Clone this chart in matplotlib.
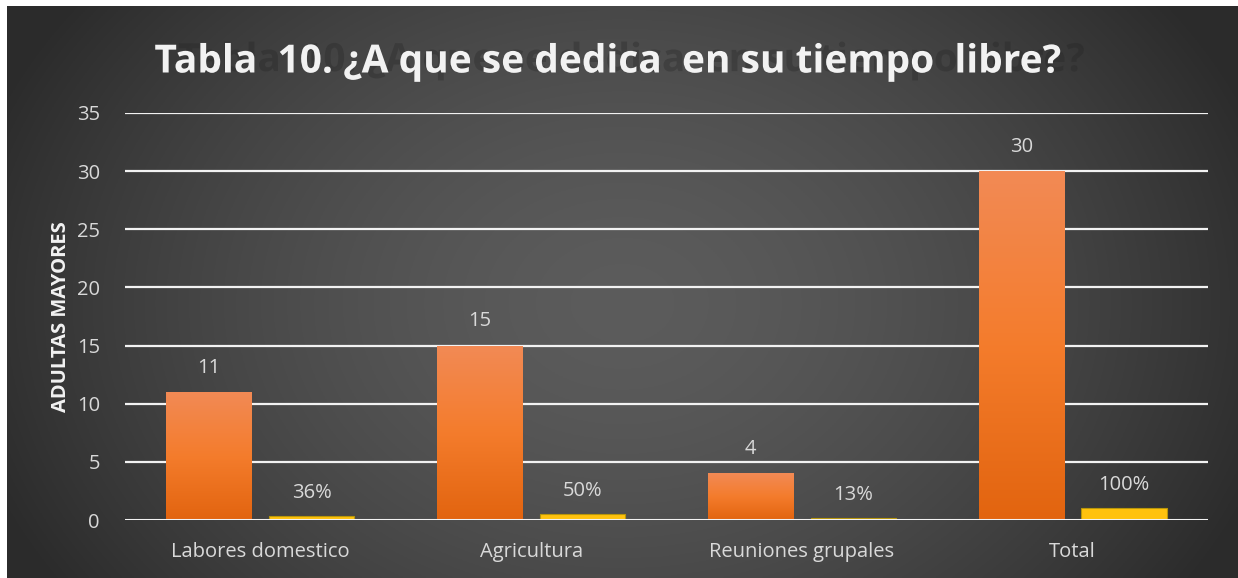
import numpy as np
import matplotlib.pyplot as plt
import matplotlib.patheffects as pe
from matplotlib.colors import LinearSegmentedColormap

categorias = ['Labores domestico', 'Agricultura', 'Reuniones grupales', 'Total']
cantidad = [11, 15, 4, 30]
porcentaje = [0.36, 0.50, 0.13, 1.00]
etiquetas_pct = ['36%', '50%', '13%', '100%']
yticks = [0, 5, 10, 15, 20, 25, 30, 35]

plt.rcParams['font.family'] = ['Open Sans', 'DejaVu Sans']

W, H = 1238, 578
fig = plt.figure(figsize=(W / 100, H / 100), dpi=100)
fig.patch.set_facecolor('white')

# fondo con degradado radial
bg = fig.add_axes([7 / W, 0, 1 - 7 / W, 1 - 6 / H])
bg.set_axis_off()
yy, xx = np.mgrid[0:1:300j, 0:1:600j]
r = np.sqrt(((xx - 0.5) / 0.55) ** 2 + ((yy - 0.48) / 0.9) ** 2)
r = np.clip(r, 0, 1)
val = 0.36 - 0.19 * r ** 1.6
bg.imshow(np.dstack([val, val, val]), aspect='auto', extent=[0, 1, 0, 1], origin='lower')
bg.set_xlim(0, 1)
bg.set_ylim(0, 1)

ax = fig.add_axes([125 / W, 1 - 520 / H, (1208 - 125) / W, (520 - 113) / H])
ax.patch.set_alpha(0)
ax.set_yticks(yticks)
for t in yticks[1:]:
    ax.axhline(t, color='#f2f2f2', lw=1.6, zorder=1)
ax.axhline(0, color='#f2f2f2', lw=2.2, zorder=4)
for s in ax.spines.values():
    s.set_visible(False)
ax.tick_params(axis='both', length=0, colors='#d9d9d9', labelsize=14.5)
ax.tick_params(axis='y', pad=18)
ax.tick_params(axis='x', pad=16)
ax.set_xticks(range(len(categorias)))
ax.set_xticklabels(categorias)

naranja = LinearSegmentedColormap.from_list('nar', ['#e2640f', '#f47c2c', '#f28a55'])
x = np.arange(len(categorias))
w = 0.315
d = 0.19

barras = ax.bar(x - d, cantidad, w, color='none', zorder=3)
for b in barras:
    x0, y0 = b.get_x(), b.get_y()
    bw, bh = b.get_width(), b.get_height()
    grad = np.linspace(0, 1, 256).reshape(-1, 1)
    im = ax.imshow(grad, cmap=naranja, aspect='auto', origin='lower',
                   extent=[x0, x0 + bw, y0, y0 + bh], zorder=3)
    im.set_clip_path(b)
ax.set_xlim(-0.5, 3.5)
ax.set_ylim(0, 35)

barras2 = ax.bar(x + d, porcentaje, w, color='#ffc20e', edgecolor='#b8960a', lw=0.8, zorder=3)

for xi, v in zip(x, cantidad):
    ax.text(xi - d, v + 2.1, str(v), ha='center', va='center', color='#d9d9d9', fontsize=14.5)
for xi, v, lab in zip(x, porcentaje, etiquetas_pct):
    ax.text(xi + d, v + 2.0, lab, ha='center', va='center', color='#d9d9d9', fontsize=14.5)

ax.set_ylabel('ADULTAS MAYORES', color='#f2f2f2', fontsize=14.5, fontweight='bold', labelpad=4)

titulo = 'Tabla  10. ¿A que se dedica  en su tiempo  libre?'
fig.text(607 / W, 1 - 62 / H, titulo, ha='center', va='center',
         color='#f2f2f2', fontsize=28, fontweight='bold',
         path_effects=[pe.SimplePatchShadow(offset=(17, 1), shadow_rgbFace='#222222', alpha=0.3),
                       pe.Normal()])

fig.savefig('out.png', dpi=100, facecolor=fig.get_facecolor())
